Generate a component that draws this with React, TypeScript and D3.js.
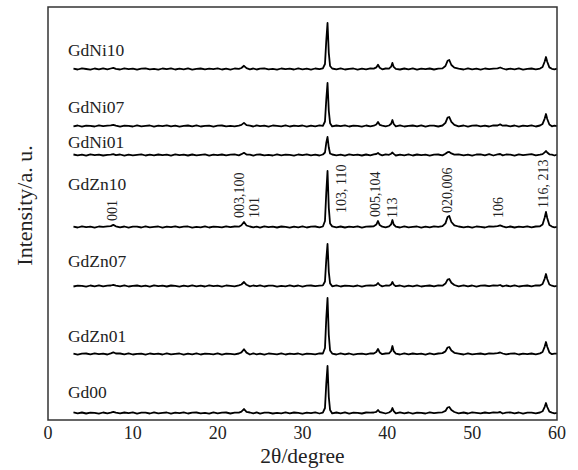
import * as d3 from "d3";

// 2θ sample positions (degrees), shared by every pattern
const twoTheta = [
  3, 3.5, 4, 4.5, 5, 5.5, 6, 6.5, 7,
  7.4, 7.7, 8.0,
  8.5, 9, 9.5, 10, 10.5, 11, 11.5, 12, 12.5, 13, 13.5, 14, 14.5, 15, 15.5, 16, 16.5, 17, 17.5, 18, 18.5, 19, 19.5, 20, 20.5, 21, 21.5, 22, 22.5,
  22.8, 23.1, 23.4,
  23.8, 24.2, 24.6, 25, 25.5, 26, 26.5, 27, 27.5, 28, 28.5, 29, 29.5, 30, 30.5, 31, 31.5, 32, 32.4,
  32.65, 32.8, 32.95, 33.1, 33.25,
  33.5, 34, 34.5, 35, 35.5, 36, 36.5, 37, 37.5, 38, 38.4,
  38.7, 38.9, 39.1,
  39.4, 39.8, 40.2,
  40.45, 40.6, 40.75,
  41.0, 41.5, 42, 42.5, 43, 43.5, 44, 44.5, 45, 45.5, 46, 46.5,
  46.85, 47.1, 47.3, 47.55, 47.9,
  48.4, 49, 49.5, 50, 50.5, 51, 51.5, 52, 52.5, 53,
  53.3,
  53.6, 54, 54.5, 55, 55.5, 56, 56.5, 57, 57.5, 58,
  58.3, 58.55, 58.7, 58.85, 59.1,
  59.4, 59.7, 60,
];

// intensities (a.u.)
const gdNi10 = [
  0.4, -0.5, 0.6, 0, -0.6, 0.5, -0.3, 0.7, -0.4,
  0.5, 1.2, 0.2,
  -0.5, 0.6, -0.2, 0.4, -0.7, 0.3, 0.6, -0.4, 0.2, -0.6, 0.5, -0.1, 0.7, -0.5, 0.3, -0.3, 0.6, -0.6, 0.2, 0.5, -0.4, 0.4, -0.2, 0.6, -0.5, 0.3, -0.6, 0.5, 0.1,
  1.0, 3.2, 0.9,
  -0.3, 0.5, -0.5, 0.3, 0.6, -0.4, 0.2, -0.6, 0.5, -0.2, 0.4, -0.5, 0.6, -0.3, 0.3, -0.6, 0.5, -0.2, 0.6,
  5, 28, 46, 16, 3,
  0.5, -0.4, 0.6, -0.5, 0.2, 0.5, -0.6, 0.3, -0.3, 0.6, 0.4,
  1.6, 4.2, 1.3,
  -0.3, 0.5, 0.3,
  2.3, 6.1, 2.1,
  0.2, -0.5, 0.5, -0.3, 0.6, -0.6, 0.4, -0.2, 0.5, -0.5, 0.3, 0.6,
  3, 8.2, 9, 4, 1.3,
  0.3, -0.5, 0.6, -0.4, 0.3, -0.6, 0.5, -0.2, 0.4, 0.6,
  1.5,
  0.5, -0.5, 0.4, -0.3, 0.6, -0.6, 0.2, 0.5, -0.4, 0.4,
  2, 7.5, 12, 7.2, 1.6,
  0.2, -0.4, 0.3,
];

const gdNi07 = [
  -0.3, 0.5, -0.6, 0.4, 0.2, -0.5, 0.6, -0.2, 0.3,
  0.6, 1.1, 0.3,
  -0.6, 0.4, 0.1, -0.5, 0.6, -0.3, 0.2, 0.5, -0.6, 0.3, -0.2, 0.6, -0.4, 0.4, -0.6, 0.2, 0.5, -0.3, 0.6, -0.5, 0.1, 0.4, -0.6, 0.3, 0.5, -0.4, 0.2, -0.3, 0.4,
  1.1, 3.1, 0.8,
  0.3, -0.5, 0.6, -0.2, 0.4, -0.6, 0.5, 0.1, -0.4, 0.6, -0.5, 0.3, -0.1, 0.5, -0.6, 0.4, -0.3, 0.6, 0.2,
  4.5, 26, 43, 15, 2.8,
  -0.4, 0.5, -0.2, 0.6, -0.5, 0.3, 0.2, -0.6, 0.5, -0.3, 0.3,
  1.5, 4, 1.2,
  0.4, -0.4, 0.5,
  2.2, 6, 2,
  -0.3, 0.6, -0.5, 0.2, 0.5, -0.4, 0.6, -0.6, 0.3, 0.4, -0.5, 0.5,
  3.2, 8.4, 9, 4.1, 1.2,
  -0.4, 0.5, -0.6, 0.3, 0.6, -0.3, 0.4, -0.5, 0.7, 0.5,
  1.6,
  0.3, 0.6, -0.4, 0.5, -0.6, 0.4, -0.2, 0.6, -0.5, 0.5,
  2.1, 7.4, 12, 7, 1.5,
  -0.3, 0.4, -0.2,
];

const gdNi01 = [
  0.5, -0.4, 0.3, -0.6, 0.6, -0.2, 0.4, -0.5, 0.2,
  0.3, 0.8, -0.2,
  0.5, -0.6, 0.4, -0.3, 0.2, 0.6, -0.5, 0.3, -0.4, 0.5, -0.2, 0.4, -0.6, 0.6, -0.1, 0.3, -0.5, 0.5, -0.3, 0.2, 0.6, -0.6, 0.4, -0.2, 0.5, -0.4, 0.3, 0.6, -0.3,
  0.8, 2.2, 0.5,
  0.4, -0.6, 0.3, 0.5, -0.4, 0.2, -0.5, 0.6, -0.3, 0.4, 0.1, -0.6, 0.5, -0.2, 0.6, -0.4, 0.3, -0.5, 0.5,
  2.5, 12, 18, 7.5, 1.5,
  0.5, -0.3, 0.4, -0.6, 0.6, -0.2, 0.3, -0.5, 0.5, -0.4, 0.6,
  1, 2, 0.6,
  -0.4, 0.6, 0.2,
  1.3, 2.5, 1.1,
  -0.5, 0.4, -0.3, 0.6, -0.5, 0.5, -0.2, 0.4, -0.6, 0.3, 0.5, -0.4,
  1.2, 2.8, 3, 1.6, 0.4,
  0.6, -0.4, 0.3, -0.6, 0.5, 0.7, -0.3, 0.9, -0.5, 0.6,
  1,
  -0.4, 0.5, 0.3, -0.6, 0.6, -0.2, 0.4, 0.9, -0.4, 0.3,
  0.9, 2.6, 4, 2.5, 0.7,
  0.4, -0.5, 0.3,
];

const gdZn10 = [
  0.3, -0.5, 0.6, -0.2, 0.4, -0.6, 0.5, 0.1, 0.6,
  0.9, 2.1, 0.7,
  -0.4, 0.5, -0.6, 0.3, 0.4, -0.5, 0.6, -0.3, 0.2, 0.5, -0.6, 0.4, -0.2, 0.6, -0.4, 0.3, 0.5, -0.6, 0.2, -0.3, 0.6, -0.5, 0.4, 0.1, -0.4, 0.6, -0.2, 0.5, 0.3,
  1.8, 5, 1.5,
  0.5, -0.3, 0.4, -0.6, 0.6, -0.2, 0.3, -0.5, 0.5, 0.2, -0.6, 0.4, -0.3, 0.6, -0.5, 0.3, 0.5, -0.4, 0.5,
  6, 34, 56, 19, 3.5,
  0.6, -0.3, 0.5, -0.5, 0.4, -0.2, 0.6, -0.6, 0.3, 0.5, 0.7,
  2.4, 6, 1.9,
  0.3, -0.4, 0.6,
  2.7, 7, 2.5,
  0.4, -0.5, 0.6, -0.3, 0.2, 0.5, -0.6, 0.4, -0.4, 0.6, 0.2, 0.8,
  3.6, 10, 11, 5, 1.6,
  0.5, -0.4, 0.3, -0.6, 0.5, 0.2, -0.5, 0.6, 0.4, 0.9,
  1.6,
  0.6, -0.3, 0.5, -0.5, 0.4, -0.2, 0.6, -0.4, 0.5, 0.7,
  2.4, 9.5, 15, 9, 2,
  0.4, -0.3, 0.2,
];

const gdZn07 = [
  -0.5, 0.4, 0.2, -0.6, 0.5, -0.3, 0.6, -0.4, 0.3,
  0.5, 1.2, 0.4,
  -0.3, 0.6, -0.5, 0.2, 0.5, -0.4, 0.3, -0.6, 0.6, -0.2, 0.4, -0.5, 0.5, 0.1, -0.6, 0.4, -0.3, 0.6, -0.4, 0.3, -0.5, 0.6, -0.2, 0.4, -0.6, 0.5, 0.2, -0.4, 0.6,
  1.5, 4, 1.2,
  -0.4, 0.5, -0.2, 0.6, -0.5, 0.3, 0.4, -0.6, 0.2, -0.3, 0.6, -0.4, 0.5, -0.6, 0.3, 0.5, -0.2, 0.4, 0.6,
  4.5, 26, 42, 14, 2.6,
  -0.3, 0.6, -0.5, 0.4, 0.2, -0.4, 0.5, -0.6, 0.3, 0.6, 0.4,
  1.2, 3, 1,
  -0.4, 0.5, 0.3,
  1.6, 4, 1.4,
  -0.2, 0.5, -0.6, 0.4, -0.3, 0.6, -0.5, 0.2, 0.5, -0.4, 0.6, 0.3,
  2.4, 6.4, 7, 3.3, 1,
  -0.3, 0.6, -0.4, 0.5, -0.6, 0.3, 0.5, -0.2, 0.6, 0.3,
  1,
  -0.4, 0.5, -0.3, 0.6, -0.5, 0.2, 0.5, -0.4, 0.6, 0.5,
  2, 7.4, 12, 7, 1.5,
  0.3, -0.4, 0.2,
];

const gdZn01 = [
  0.4, -0.6, 0.3, 0.5, -0.4, 0.6, -0.2, 0.4, -0.5,
  0.7, 1.7, 0.5,
  0.5, -0.3, 0.6, -0.5, 0.2, 0.4, -0.6, 0.5, -0.2, 0.3, -0.5, 0.6, -0.4, 0.2, 0.5, -0.6, 0.4, -0.3, 0.6, -0.5, 0.3, 0.1, -0.4, 0.6, -0.6, 0.4, 0.2, -0.3, 0.5,
  1.6, 4.8, 1.4,
  -0.5, 0.6, -0.3, 0.4, -0.6, 0.5, 0.2, -0.4, 0.6, -0.5, 0.3, -0.2, 0.5, -0.6, 0.4, 0.2, -0.3, 0.6, 0.5,
  6, 35, 56, 19, 3.5,
  0.4, -0.5, 0.6, -0.3, 0.5, -0.6, 0.2, 0.4, -0.4, 0.6, 0.5,
  2, 5, 1.6,
  -0.2, 0.5, 0.6,
  3, 8, 2.8,
  0.3, -0.5, 0.6, -0.4, 0.5, -0.2, 0.4, -0.6, 0.6, -0.3, 0.5, 0.9,
  2.6, 6.5, 7, 3.5, 1.2,
  0.4, -0.5, 0.6, -0.3, 0.2, 0.5, -0.4, 0.6, 0.3, 0.9,
  1.5,
  0.5, -0.4, 0.3, 0.6, -0.5, 0.4, -0.2, 0.5, -0.3, 0.6,
  2, 7.4, 12, 7.2, 1.6,
  -0.2, 0.4, 0.3,
];

const gd00 = [
  0.6, -0.4, 0.5, -0.5, 0.3, 0.2, -0.6, 0.5, -0.3,
  0.4, 1.2, 0.3,
  -0.4, 0.5, -0.2, 0.6, -0.6, 0.3, 0.4, -0.5, 0.6, -0.3, 0.2, 0.5, -0.6, 0.4, -0.2, 0.6, -0.5, 0.3, 0.5, -0.4, 0.2, -0.6, 0.6, -0.3, 0.4, 0.5, -0.5, 0.3, 0.4,
  1.3, 4, 1.1,
  0.5, -0.4, 0.6, -0.6, 0.3, 0.4, -0.5, 0.2, -0.3, 0.6, -0.4, 0.5, 0.1, -0.6, 0.4, -0.2, 0.6, -0.5, 0.4,
  5, 29, 47, 16, 3,
  -0.4, 0.5, -0.3, 0.6, -0.6, 0.4, 0.2, -0.5, 0.5, 0.3, 0.5,
  1.2, 3, 1,
  0.4, -0.5, 0.5,
  2, 5, 1.8,
  -0.4, 0.6, -0.3, 0.5, -0.6, 0.4, 0.2, -0.5, 0.6, -0.2, 0.4, 0.7,
  2.1, 5.5, 6, 2.9, 1,
  -0.3, 0.5, -0.5, 0.6, 0.2, -0.4, 0.5, -0.2, 0.6, 0.4,
  1,
  -0.5, 0.4, 0.6, -0.3, 0.5, -0.6, 0.3, 0.4, -0.4, 0.5,
  1.7, 6.2, 10, 6, 1.3,
  0.3, -0.4, 0.2,
];

const sampleNames = ["GdNi10", "GdNi07", "GdNi01", "GdZn10", "GdZn07", "GdZn01", "Gd00"];
const sampleData = [gdNi10, gdNi07, gdNi01, gdZn10, gdZn07, gdZn01, gd00];
// vertical stacking offsets (a.u.)
const sampleOffsets = [351, 294, 265, 193, 134, 66, 7];
// how far above each baseline its name sits
const nameLift = [13, 13, 7, 37, 19, 12, 15];

const peakLabels = ["001", "003,100", "101", "103, 110", "005,104", "113", "020,006", "106", "116, 213"];
const peakLabelTheta = [7.55, 22.6, 24.4, 34.65, 38.65, 40.65, 47.15, 53.05, 58.35];
const peakLabelLift = [6, 9, 9, 14, 10, 9, 14, 9, 19];

const xTicks = [0, 10, 20, 30, 40, 50, 60];

const W = 578;
const H = 470;
const margin = { left: 48, right: 21, top: 7, bottom: 50 };
const font = "'Liberation Serif', 'Times New Roman', serif";

export default function App() {
  const x = d3.scaleLinear().domain([0, 60]).range([margin.left, W - margin.right]);
  const y = d3.scaleLinear().domain([0, 413]).range([H - margin.bottom, margin.top]);

  const series = sampleNames.map((name, i) => ({
    name,
    offset: sampleOffsets[i],
    lift: nameLift[i],
    points: sampleData[i].map((v, j) => [twoTheta[j], v + sampleOffsets[i]] as [number, number]),
  }));

  const line = d3
    .line<[number, number]>()
    .x((d) => x(d[0]))
    .y((d) => y(d[1]));

  const zn10 = sampleOffsets[3];
  const [x0, x1] = x.range();
  const [yb, yt] = y.range();

  return (
    <svg
      width={W}
      height={H}
      style={{ position: "absolute", left: 0, top: 0, background: "#fff", fontFamily: font }}
    >
      {series.map((s) => (
        <g key={s.name}>
          <path d={line(s.points) ?? ""} fill="none" stroke="#000" strokeWidth={1.8} strokeLinejoin="round" />
          <text x={x(2.35)} y={y(s.offset + s.lift)} fontSize={17.5} fill="#222">
            {s.name}
          </text>
        </g>
      ))}

      {peakLabels.map((lab, i) => (
        <text
          key={lab}
          transform={`translate(${x(peakLabelTheta[i])},${y(zn10 + peakLabelLift[i])}) rotate(-90)`}
          dominantBaseline="central"
          fontSize={14}
          fill="#222"
        >
          {lab}
        </text>
      ))}

      <rect x={x0} y={yt} width={x1 - x0} height={yb - yt} fill="none" stroke="#333" strokeWidth={1.5} />

      {xTicks.map((t) => (
        <text key={t} x={x(t)} y={yb + 18.5} textAnchor="middle" fontSize={18} fill="#222">
          {t}
        </text>
      ))}

      <text x={(x0 + x1) / 2} y={H - 7} textAnchor="middle" fontSize={21.5} fill="#222">
        2θ/degree
      </text>
      <text
        transform={`translate(32,${(yt + yb) / 2 - 8}) rotate(-90)`}
        textAnchor="middle"
        fontSize={22}
        fill="#222"
      >
        Intensity/a. u.
      </text>
    </svg>
  );
}
